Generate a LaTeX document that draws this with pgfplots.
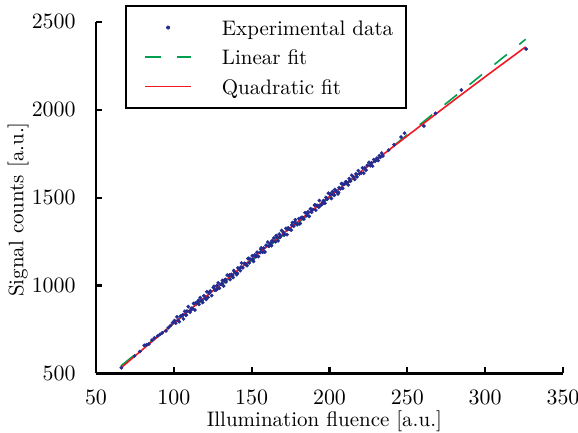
\documentclass[border=0pt]{standalone}
\usepackage{pgfplots}
\usepackage{pgfplotstable}
\pgfplotsset{compat=1.18}
\definecolor{datablue}{RGB}{35,45,145}
\definecolor{fitgreen}{RGB}{0,160,80}
\definecolor{fitred}{RGB}{240,25,35}
\pgfplotsset{
  linelegend/.style={legend image code/.code={\path[draw=none] (0pt,0pt) -- (3pt,0pt); \draw[##1] plot coordinates {(3pt,0pt) (26pt,0pt)};}},
  dotlegend/.style={legend image code/.code={\path[draw=none] (0pt,-1pt) -- (26pt,1pt); \fill[datablue, draw=none] (14.5pt,0pt) circle[radius=1pt];}},
}
\pgfplotstableread{
x y
66.3 533
74.8 600
78.2 625
81.0 660
82.5 664
84.0 668
86.0 690
87.5 702
89.5 712
91.0 722
92.5 731
95.0 742
96.5 760
97.8 772
99.2 789
100.4 801
101.2 786
102.0 822
102.7 802
103.5 795
104.3 826
105.4 829
106.2 810
107.0 853
107.7 832
108.5 855
109.3 880
110.4 849
111.2 871
112.0 869
112.7 898
113.5 861
114.3 902
115.4 907
116.2 893
117.0 931
117.7 915
118.5 904
119.3 942
120.4 928
121.2 965
122.0 933
122.7 957
123.5 969
124.3 943
125.4 989
126.2 974
127.0 973
127.7 999
128.5 1015
129.3 985
130.4 1006
131.2 1029
132.0 997
132.7 1032
133.5 1021
134.3 1059
135.4 1056
136.2 1034
137.0 1063
137.7 1056
138.5 1085
139.3 1073
140.4 1062
141.2 1100
142.0 1095
142.7 1085
143.5 1128
144.3 1101
145.4 1126
146.2 1120
147.0 1113
147.7 1153
148.5 1129
149.3 1149
150.4 1169
151.2 1137
152.0 1174
152.7 1164
153.5 1189
154.3 1165
155.4 1188
156.2 1214
157.0 1189
157.7 1213
158.5 1191
159.3 1229
160.4 1247
161.2 1224
162.0 1241
162.7 1227
163.5 1250
164.3 1270
165.4 1249
166.2 1274
167.0 1254
167.7 1292
168.5 1279
169.3 1313
170.4 1302
171.2 1292
172.0 1325
172.7 1289
173.5 1328
174.3 1321
175.4 1315
176.2 1358
177.0 1337
177.7 1361
178.5 1354
179.3 1346
180.4 1381
181.2 1353
182.0 1387
182.7 1387
183.5 1378
184.3 1414
185.4 1398
186.2 1419
187.0 1393
187.7 1435
188.5 1417
189.3 1432
190.4 1457
191.2 1429
192.0 1456
192.7 1452
193.5 1483
194.3 1455
195.4 1464
196.2 1483
197.0 1468
197.7 1501
198.5 1491
199.3 1525
200.4 1518
201.2 1495
202.0 1534
202.7 1517
203.5 1546
204.3 1534
205.4 1521
206.2 1556
207.0 1550
207.7 1580
208.5 1552
209.3 1576
210.4 1590
211.2 1583
212.0 1572
212.7 1608
213.5 1593
214.3 1627
215.4 1616
216.2 1603
217.0 1635
217.7 1618
218.5 1653
219.3 1635
220.4 1640
221.2 1669
222.0 1639
222.7 1669
223.5 1656
224.3 1684
225.4 1700
226.2 1681
227.0 1697
227.7 1679
228.5 1716
229.3 1706
230.4 1724
231.2 1711
232.0 1738
232.7 1729
233.5 1753
234.3 1737
105.8 834
108.1 833
110.8 859
113.1 898
115.8 916
118.1 916
120.8 921
123.1 964
125.8 996
128.1 982
130.8 1011
133.1 1035
135.8 1060
138.1 1046
140.8 1070
143.1 1105
145.8 1124
148.1 1155
150.8 1148
153.1 1169
155.8 1207
158.1 1193
160.8 1224
163.1 1255
165.8 1284
168.1 1273
170.8 1287
173.1 1318
175.8 1344
178.1 1374
180.8 1351
183.1 1381
185.8 1408
188.1 1435
190.8 1458
193.1 1446
195.8 1474
198.1 1498
200.8 1522
203.1 1513
205.8 1530
208.1 1577
210.8 1589
213.1 1595
238.0 1770
241.5 1800
246.0 1844
248.2 1866
260.6 1907
268.1 1979
284.7 2112
326.3 2345
}\expdata
\pgfplotstableread{
x y
66 532
80 637
100 786
120 933
140 1079
160 1223
180 1365
200 1506
220 1646
240 1783
260 1919
280 2054
300 2187
326 2357
}\quadfit
\pgfplotstableread{
x y
66 543
326 2400
}\linfit
\begin{document}
\fontsize{10.5}{12.6}\selectfont
\begin{tikzpicture}
\begin{axis}[
  scale only axis, width=233.5pt, height=175.9pt,
  at={(0,0)}, anchor=south west,
  xmin=50, xmax=350, ymin=500, ymax=2500,
  xtick={50,100,...,350}, ytick={500,1000,...,2500},
  /pgf/number format/1000 sep={},
  axis x line=bottom, axis y line=left,
  axis line style={-, line width=1.1pt},
  tick align=inside, major tick length=3pt,
  tick style={line width=1.1pt, black},
  yticklabel style={xshift=-6.5pt},
  xticklabel style={yshift=-4.75pt},
  xlabel={Illumination fluence [a.u.]},
  ylabel={Signal counts [a.u.]},
  x label style={at={(axis description cs:0.489,0)}, anchor=center, yshift=-23.75pt},
  y label style={at={(axis description cs:-0.167,0.466)}, anchor=center},
  legend cell align=left,
  legend style={at={(0.0621,1.0475)}, anchor=north west, draw=black, line width=1.1pt, fill=white,
    inner xsep=6.5pt, inner ysep=4.8pt, row sep=2.85pt,
    nodes={inner sep=0pt, text height=9.8pt, text depth=2.1pt},
    /tikz/every odd column/.append style={column sep=15pt}},
]
\addplot[only marks, mark=*, mark size=0.85pt, color=datablue, mark options={line width=0.2pt, fill=datablue, draw=datablue}, dotlegend] table[x=x,y=y] {\expdata};
\addlegendentry{Experimental data}
\addplot[fitgreen, line width=0.8pt, dash pattern=on 8pt off 8pt, linelegend] table[x=x,y=y] {\linfit};
\addlegendentry{Linear fit}
\addplot[fitred, line width=0.8pt, linelegend] table[x=x,y=y] {\quadfit};
\addlegendentry{Quadratic fit}
\end{axis}
\pgfresetboundingbox
\path[use as bounding box] (-48pt,-29.75pt) rectangle (241pt,186.75pt);
\end{tikzpicture}
\end{document}
